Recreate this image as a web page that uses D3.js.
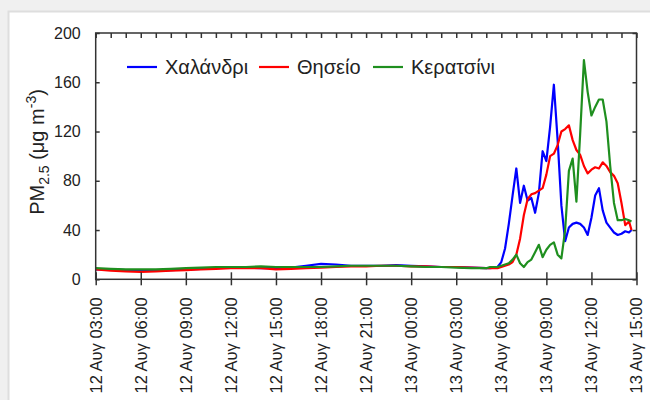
<!DOCTYPE html>
<html><head><meta charset="utf-8">
<script src="https://cdn.jsdelivr.net/npm/d3@7"></script>
<style>
html,body{margin:0;padding:0;background:#f0f0f0;}
svg{display:block;}
text{font-family:"Liberation Sans",Arial,sans-serif;fill:#222;}
</style></head>
<body>
<svg id="c" width="650" height="400"></svg>
<script>
const seriesNames = ["Χαλάνδρι", "Θησείο", "Κερατσίνι"];
const seriesColors = ["#0000ff", "#ff0000", "#1f8f1f"];
const times = [
 "08-12 03:00","08-12 04:00","08-12 05:00","08-12 06:00","08-12 07:00","08-12 08:00","08-12 09:00",
 "08-12 10:00","08-12 11:00","08-12 12:00","08-12 13:00","08-12 14:00","08-12 15:00","08-12 16:00",
 "08-12 17:00","08-12 18:00","08-12 19:00","08-12 20:00","08-12 21:00","08-12 22:00","08-12 23:00",
 "08-13 00:00","08-13 01:00","08-13 02:00","08-13 03:00","08-13 04:00","08-13 05:00",
 "08-13 05:15","08-13 05:30","08-13 05:45","08-13 06:00","08-13 06:15","08-13 06:30","08-13 06:45",
 "08-13 07:00","08-13 07:15","08-13 07:30","08-13 07:45","08-13 08:00","08-13 08:15","08-13 08:30",
 "08-13 08:45","08-13 09:00","08-13 09:15","08-13 09:30","08-13 09:45","08-13 10:00","08-13 10:15",
 "08-13 10:30","08-13 10:45","08-13 11:00","08-13 11:15","08-13 11:30","08-13 11:45","08-13 12:00",
 "08-13 12:15","08-13 12:30","08-13 12:45","08-13 13:00","08-13 13:15","08-13 13:30","08-13 13:45",
 "08-13 14:00","08-13 14:15","08-13 14:30","08-13 14:40"
];
const chalandri = [
 8,8,7.5,7,7,7.5,8, 8.5,9,9.5,9.5,9,9,9.5, 11,12.5,12,11,11,11,11.5, 11,10.5,10,10,9.5,9,
 9,9.5,10,14,25,45,68, 90,62,76,64,66,54,70, 104,96,124,158,113,60,31,
 42,45,46,45,42,36,50, 68,74,56,46,42,38,36, 37,39,38,40
];
const thiseio = [
 8,7,6.5,6,6.5,7,7.5, 8,8.5,9,9,9,8,8.5, 9,9.5,10,10.5,10.5,11,11, 10.5,10.5,10,10,9.5,9,
 9,9,9,10,11,12,14, 20,33,52,65,69,70,72, 74,85,100,102,109,120,122,
 125,113,105,101,92,86,89, 91,90,95,92,87,84,78, 62,44,47,40
];
const keratsini = [
 9,8.5,8,8,8,8.5,9, 9.5,10,10,10,10.5,10,10, 10,10,10.5,11,11,11,11, 10.5,10,10,9.5,9,9,
 10,10,10,11,12,13,16, 20,13,10,14,16,22,28, 18,24,28,30,20,17,40,
 88,98,63,118,178,152,133, 140,146,146,128,92,62,48, 48,49,48,47
];
const yTicks = [0, 40, 80, 120, 160, 200];
const xTickTimes = ["08-12 03:00","08-12 06:00","08-12 09:00","08-12 12:00","08-12 15:00","08-12 18:00",
 "08-12 21:00","08-13 00:00","08-13 03:00","08-13 06:00","08-13 09:00","08-13 12:00","08-13 15:00"];
const xTickLabels = ["12 Αυγ 03:00","12 Αυγ 06:00","12 Αυγ 09:00","12 Αυγ 12:00","12 Αυγ 15:00",
 "12 Αυγ 18:00","12 Αυγ 21:00","13 Αυγ 00:00","13 Αυγ 03:00","13 Αυγ 06:00","13 Αυγ 09:00",
 "13 Αυγ 12:00","13 Αυγ 15:00"];

const parse = d3.timeParse("%m-%d %H:%M");
const svg = d3.select("#c");
svg.append("rect").attr("x",8.5).attr("y",11.5).attr("width",660).attr("height",420)
  .attr("fill","#fff").attr("stroke","#dedede").attr("stroke-width",2);

const L = 95.7, R = 636.5, T = 33, B = 279.3;
const x = d3.scaleTime().domain([parse(xTickTimes[0]), parse(xTickTimes[xTickTimes.length-1])]).range([L, R]);
const y = d3.scaleLinear().domain([0, 200]).range([B, T]);

const g = svg.append("g");
const series = [chalandri, thiseio, keratsini];
const line = d3.line().x(d => x(d.t)).y(d => y(d.v));
series.forEach((vals, i) => {
  const pts = times.map((t, k) => ({t: parse(t), v: vals[k]}));
  g.append("path").datum(pts).attr("d", line).attr("fill","none")
   .attr("stroke", seriesColors[i]).attr("stroke-width", 2.2).attr("stroke-linejoin","round");
});

const frameColor = "#333";
const xb = svg.append("g").attr("transform", `translate(0,${B})`)
  .call(d3.axisBottom(x).tickValues(xTickTimes.map(parse)).tickSize(6).tickFormat(""));
xb.selectAll("line").attr("y1", -7).attr("y2", 6);
const xt = svg.append("g").attr("transform", `translate(0,${T})`)
  .call(d3.axisTop(x).ticks(d3.timeMinute.every(90)).tickSize(-5).tickFormat(""));
const yl = svg.append("g").attr("transform", `translate(${L},0)`)
  .call(d3.axisLeft(y).tickValues(yTicks).tickSize(-4).tickPadding(15));
const yr = svg.append("g").attr("transform", `translate(${R},0)`)
  .call(d3.axisRight(y).tickValues(yTicks).tickSize(-4).tickFormat(""));
[xb, xt, yl, yr].forEach(a => {
  a.select(".domain").remove();
  a.selectAll("line").attr("stroke", frameColor).attr("stroke-width", 1.5);
});
yl.selectAll("text").attr("font-size", 16).attr("fill","#222").attr("font-family","Liberation Sans, Arial, sans-serif");
svg.append("rect").attr("x", L).attr("y", T).attr("width", R - L).attr("height", B - T)
  .attr("fill","none").attr("stroke", frameColor).attr("stroke-width", 1.5);

xTickTimes.forEach((t, i) => {
  svg.append("text").attr("transform", `translate(${x(parse(t)) + 5.8},${B + 18}) rotate(-90)`)
    .attr("text-anchor","end").attr("font-size", 16.5).text(xTickLabels[i]);
});

const yt = svg.append("text").attr("transform", `translate(44,152) rotate(-90)`)
  .attr("text-anchor","middle").attr("font-size", 20);
yt.append("tspan").text("PM");
yt.append("tspan").attr("font-size", 14).attr("dy", 5).text("2.5");
yt.append("tspan").attr("dy", -5).text(" (μg m");
yt.append("tspan").attr("font-size", 14).attr("dy", -8).text("-3");
yt.append("tspan").attr("dy", 8).text(")");

const legX = [127, 259, 373];
seriesNames.forEach((n, i) => {
  svg.append("line").attr("x1", legX[i]).attr("x2", legX[i] + 30).attr("y1", 67).attr("y2", 67)
    .attr("stroke", seriesColors[i]).attr("stroke-width", 2.2);
  svg.append("text").attr("x", legX[i] + 38).attr("y", 74).attr("font-size", 20).text(n);
});
</script>
</body></html>
